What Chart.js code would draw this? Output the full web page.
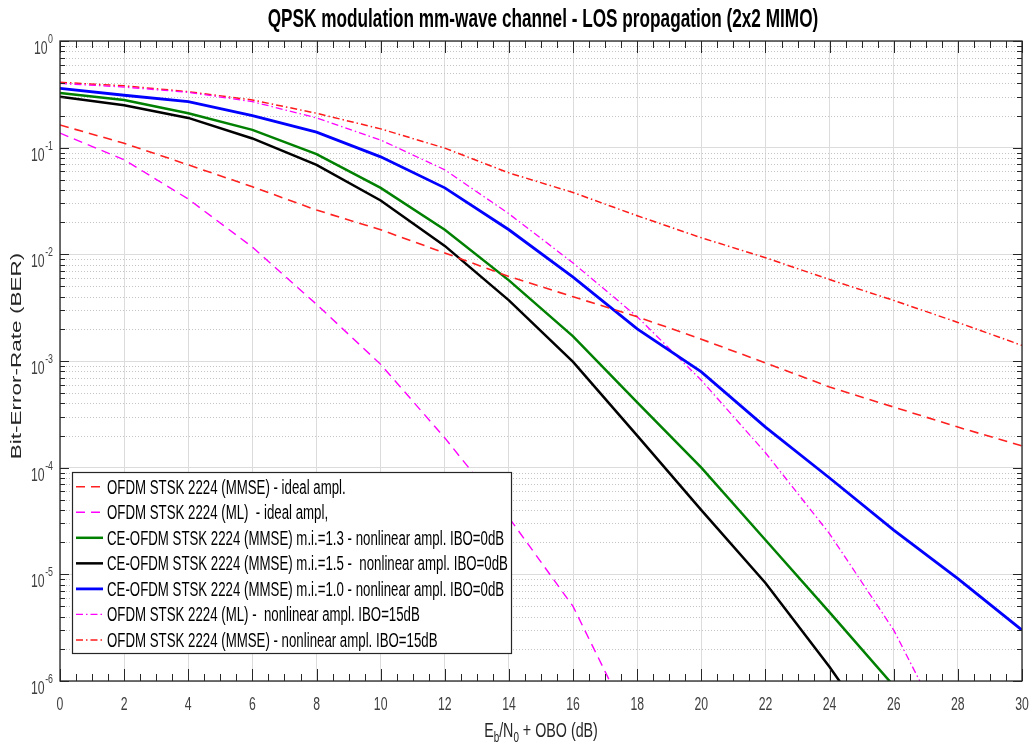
<!DOCTYPE html>
<html lang="en">
<head>
<meta charset="UTF-8">
<title>QPSK mm-wave BER</title>
<script src="https://cdn.jsdelivr.net/npm/chart.js@4.4.1/dist/chart.umd.min.js"></script>
<style>
  html, body {margin: 0; padding: 0; background: #fff;}
  #wrap {width: 1034px; height: 750px;}
</style>
</head>
<body>
<div id="wrap"><canvas id="berChart" width="1034" height="750"></canvas></div>
<script>
// Eb/N0 + OBO (dB)
const snr = [0, 2, 4, 6, 8, 10, 12, 14, 16, 18, 20, 22, 24, 26, 28, 30];

// BER per curve (null = below the plotted range)
const berMmseIdeal   = [0.163, 0.11, 0.069, 0.043, 0.026, 0.017, 0.0103, 0.0062, 0.004, 0.0026, 0.0016, 0.00096, 0.00057, 0.00037, 0.00024, 0.00016];
const berMlIdeal     = [0.137, 0.077, 0.033, 0.0117, 0.0034, 0.00093, 0.00019, 3.4e-5, 5e-6, 3e-7, null, null, null, null, null, null];
const berCeMi13      = [0.326, 0.28, 0.21, 0.147, 0.087, 0.042, 0.017, 0.0057, 0.0017, 0.00041, 0.0001, 2.1e-5, 4.4e-6, 9e-7, null, null];
const berCeMi15      = [0.30, 0.25, 0.19, 0.122, 0.069, 0.032, 0.012, 0.0037, 0.00098, 0.0002, 4e-5, 8.3e-6, 1.35e-6, 1.9e-7, null, null];
const berCeMi10      = [0.36, 0.31, 0.27, 0.2, 0.14, 0.082, 0.042, 0.017, 0.0061, 0.002, 0.00079, 0.00024, 8e-5, 2.6e-5, 9.1e-6, 3e-6];
const berMlIbo15     = [0.40, 0.37, 0.33, 0.27, 0.19, 0.118, 0.062, 0.024, 0.0083, 0.0026, 0.00066, 0.000138, 2.4e-5, 3e-6, 2e-7, null];
const berMmseIbo15   = [0.41, 0.38, 0.335, 0.28, 0.21, 0.15, 0.099, 0.058, 0.038, 0.023, 0.0143, 0.0093, 0.0058, 0.0037, 0.0023, 0.0014];

const seriesNames = [
  'OFDM STSK 2224 (MMSE) - ideal ampl.',
  'OFDM STSK 2224 (ML)  - ideal ampl,',
  'CE-OFDM STSK 2224 (MMSE) m.i.=1.3 - nonlinear ampl. IBO=0dB',
  'CE-OFDM STSK 2224 (MMSE) m.i.=1.5 -  nonlinear ampl. IBO=0dB',
  'CE-OFDM STSK 2224 (MMSE) m.i.=1.0 - nonlinear ampl. IBO=0dB',
  'OFDM STSK 2224 (ML) -  nonlinear ampl. IBO=15dB',
  'OFDM STSK 2224 (MMSE) - nonlinear ampl. IBO=15dB'
];

const xTicks = [0, 2, 4, 6, 8, 10, 12, 14, 16, 18, 20, 22, 24, 26, 28, 30];
const yTicks = [1e-6, 1e-5, 1e-4, 1e-3, 1e-2, 1e-1, 1];
const yTickExp = ['-6', '-5', '-4', '-3', '-2', '-1', '0'];

const chartTitle = 'QPSK modulation mm-wave channel - LOS propagation (2x2 MIMO)';
const yTitle = 'Bit-Error-Rate (BER)';

const FONT = '"Liberation Sans", Arial, Helvetica, sans-serif';
const SX = 0.68; // the original figure is squeezed horizontally

function pts(arr) {
  return snr.map((x, i) => ({x: x, y: arr[i]})).filter(p => p.y !== null);
}

function ds(label, arr, color, width, dash) {
  return {
    label: label, data: pts(arr), borderColor: color, backgroundColor: color,
    borderWidth: width, borderDash: dash, pointRadius: 0, fill: false, tension: 0
  };
}

// draw text squeezed horizontally; pieces = [[text, size, dy, bold]]
function drawRun(ctx, pieces, x, y, align, color) {
  ctx.save();
  ctx.fillStyle = color;
  let total = 0;
  pieces.forEach(p => {
    ctx.font = (p[3] ? 'bold ' : '') + p[1] + 'px ' + FONT;
    total += ctx.measureText(p[0]).width * SX;
  });
  let cx = x;
  if (align === 'center') cx = x - total / 2;
  if (align === 'right') cx = x - total;
  pieces.forEach(p => {
    ctx.font = (p[3] ? 'bold ' : '') + p[1] + 'px ' + FONT;
    const w = ctx.measureText(p[0]).width;
    ctx.save();
    ctx.translate(cx, y + (p[2] || 0));
    ctx.scale(SX, 1);
    ctx.textAlign = 'left';
    ctx.textBaseline = 'alphabetic';
    ctx.fillText(p[0], 0, 0);
    ctx.restore();
    cx += w * SX;
  });
  ctx.restore();
  return total;
}

const matlabFrame = {
  id: 'matlabFrame',
  beforeDatasetsDraw(chart) {
    const ctx = chart.ctx, a = chart.chartArea, ys = chart.scales.y;
    ctx.save();
    ctx.strokeStyle = '#c4c4c4';
    ctx.lineWidth = 1;
    ctx.setLineDash([1, 2]);
    for (let e = -6; e < 0; e++) {
      for (let m = 2; m <= 9; m++) {
        const py = Math.round(ys.getPixelForValue(m * Math.pow(10, e))) + 0.5;
        ctx.beginPath();
        ctx.moveTo(a.left, py);
        ctx.lineTo(a.right, py);
        ctx.stroke();
      }
    }
    ctx.restore();
  },
  afterDatasetsDraw(chart) {
    const ctx = chart.ctx, a = chart.chartArea;
    const xs = chart.scales.x, ys = chart.scales.y;
    ctx.save();
    ctx.strokeStyle = '#262626';
    ctx.lineWidth = 1;
    ctx.setLineDash([]);

    // tick marks, inward on all four sides
    ctx.beginPath();
    for (let v = 0; v <= 30.001; v += 0.5) {
      const px = Math.round(xs.getPixelForValue(v)) + 0.5;
      const len = (Math.abs(v % 2) < 1e-6) ? 12 : 7;
      ctx.moveTo(px, a.bottom); ctx.lineTo(px, a.bottom - len);
      ctx.moveTo(px, a.top); ctx.lineTo(px, a.top + len);
    }
    for (let e = -6; e <= 0; e++) {
      for (let m = 1; m <= 9; m++) {
        const v = m * Math.pow(10, e);
        if (v > 1.0001) break;
        const py = Math.round(ys.getPixelForValue(v)) + 0.5;
        const len = m === 1 ? 9 : 5;
        ctx.moveTo(a.left, py); ctx.lineTo(a.left + len, py);
        ctx.moveTo(a.right, py); ctx.lineTo(a.right - len, py);
      }
    }
    ctx.stroke();

    // axes box
    ctx.lineWidth = 1.3;
    ctx.strokeRect(a.left, a.top, a.right - a.left, a.bottom - a.top);

    // tick labels
    xTicks.forEach(v => {
      drawRun(ctx, [[String(v), 18, 0]], xs.getPixelForValue(v), a.bottom + 29, 'center', '#404040');
    });
    yTicks.forEach((v, i) => {
      const py = ys.getPixelForValue(v);
      ctx.font = '13px ' + FONT;
      const ew = ctx.measureText(yTickExp[i]).width * SX;
      const expLeft = a.left - 7 - ew;
      drawRun(ctx, [['10', 18, 0]], expLeft - 0.5, py + 13, 'right', '#404040');
      drawRun(ctx, [[yTickExp[i], 13, 0]], expLeft, py + 2, 'left', '#404040');
    });

    // title and axis titles
    drawRun(ctx, [[chartTitle, 25.3, 0, true]], 543, 27, 'center', '#000');
    drawRun(ctx, [['E', 21, 0], ['b', 14.5, 5], ['/N', 21, 0], ['0', 14.5, 5], [' + OBO (dB)', 21, 0]],
      (a.left + a.right) / 2, 737, 'center', '#262626');
    ctx.save();
    ctx.translate(17, 356);
    ctx.rotate(-Math.PI / 2);
    ctx.scale(1, SX);
    ctx.font = '22.5px ' + FONT;
    ctx.fillStyle = '#262626';
    ctx.textAlign = 'center';
    ctx.textBaseline = 'middle';
    ctx.fillText(yTitle, 0, 0);
    ctx.restore();

    // legend box, lower left inside the axes
    const lx = 72, ly = 472, lw = 439, lh = 181;
    ctx.fillStyle = '#fff';
    ctx.fillRect(lx, ly, lw, lh);
    ctx.strokeStyle = '#262626';
    ctx.lineWidth = 1.2;
    ctx.strokeRect(lx + 0.5, ly + 0.5, lw, lh);
    chart.data.datasets.forEach((d, i) => {
      const cy = 486.7 + i * 25.55;
      ctx.save();
      ctx.strokeStyle = d.borderColor;
      ctx.lineWidth = d.borderWidth;
      ctx.setLineDash(d.borderDash || []);
      ctx.beginPath();
      ctx.moveTo(76, cy); ctx.lineTo(103, cy);
      ctx.stroke();
      ctx.restore();
      drawRun(ctx, [[d.label, 19.5, 0]], 107, cy + 7, 'left', '#000');
    });
    ctx.restore();
  }
};

new Chart(document.getElementById('berChart'), {
  type: 'line',
  data: {
    datasets: [
      ds(seriesNames[0], berMmseIdeal, '#ff2020', 1.6, [9, 6]),
      ds(seriesNames[1], berMlIdeal, '#ff00ff', 1.4, [9, 6]),
      ds(seriesNames[2], berCeMi13, '#008000', 2.5, []),
      ds(seriesNames[3], berCeMi15, '#000000', 2.5, []),
      ds(seriesNames[4], berCeMi10, '#0000ff', 2.8, []),
      ds(seriesNames[5], berMlIbo15, '#ff00ff', 1.3, [7, 3, 1.5, 3]),
      ds(seriesNames[6], berMmseIbo15, '#ff1a1a', 1.5, [7, 3, 1.5, 3])
    ]
  },
  options: {
    responsive: false,
    animation: false,
    devicePixelRatio: 1,
    layout: {padding: {left: 60, top: 41, right: 12, bottom: 69}},
    plugins: {legend: {display: false}, title: {display: false}, tooltip: {enabled: false}},
    scales: {
      x: {
        type: 'linear', min: 0, max: 30,
        ticks: {display: false, stepSize: 2},
        grid: {color: '#dcdcdc', lineWidth: 1, drawTicks: false},
        border: {display: false}
      },
      y: {
        type: 'logarithmic', min: 1e-6, max: 1,
        afterBuildTicks: s => { s.ticks = yTicks.map(v => ({value: v})); },
        ticks: {display: false},
        grid: {color: '#dcdcdc', lineWidth: 1, drawTicks: false},
        border: {display: false}
      }
    }
  },
  plugins: [matlabFrame]
});
</script>
</body>
</html>
